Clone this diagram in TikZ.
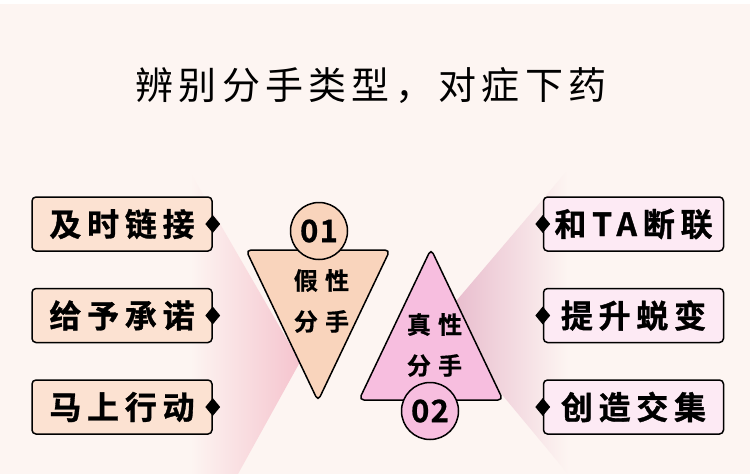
\documentclass[tikz,border=0pt]{standalone}
\usepackage{fontspec}
\usepackage{xcolor}
\setmainfont{Noto Sans CJK SC}[BoldFont={* Bold}]
\newfontfamily\capfam{Noto Sans CJK SC}[LetterSpace=14]
\newfontfamily\tagfam{Noto Sans CJK SC}[UprightFont={* Bold}, LetterSpace=18, FakeBold=1]
\newfontfamily\kindfam{Noto Sans CJK SC}[UprightFont={* Bold}, LetterSpace=30, FakeBold=0.6]
\newfontfamily\digitfam{Noto Sans CJK SC}[UprightFont={* Bold}, LetterSpace=4, FakeBold=0.6]
\newcommand\capfont{\capfam\fontsize{38}{44}\selectfont}
\newcommand\tagfont{\tagfam\fontsize{32}{38}\selectfont}
\newcommand\kindfont{\kindfam\fontsize{24}{41}\selectfont}
\newcommand\digitfont{\digitfam\fontsize{31}{36}\selectfont}
\usetikzlibrary{positioning, shapes}

\definecolor{bgpink}{HTML}{FDF5F2}
\definecolor{peachtri}{HTML}{F9D4BC}
\definecolor{pinktri}{HTML}{F7BEDF}
\definecolor{peachbox}{HTML}{FCE2D2}
\definecolor{pinkbox}{HTML}{FDEAF4}
\definecolor{shadowL}{HTML}{F5C4CE}
\definecolor{shadowR}{HTML}{E6B6C9}

\begin{document}
\begin{tikzpicture}[x=1pt, y=-1pt,
    tag/.style={draw, line width=1.5pt, rounded corners=4pt, minimum width=180pt,
      minimum height=54pt, inner sep=0pt, font=\tagfont},
    tip/.style={diamond, fill=black, minimum width=15pt, minimum height=18pt, inner sep=0pt},
    num/.style={circle, draw, line width=1.5pt, minimum size=57pt, inner sep=0pt, font=\digitfont},
    kind/.style={align=center, inner sep=0pt, font=\kindfont},
    tri/.style={draw, line width=1.5pt, rounded corners=5pt}]
    \fill[bgpink] (0,0) rectangle (750,474);
    \fill[white] (0,0) rectangle (750,4);
    \shade[left color=bgpink, right color=shadowL] (190,172) -- (300,362) -- (238,474) -- (190,474) -- cycle;
    \shade[left color=shadowR, right color=bgpink] (566,172) -- (440,320) -- (568,474) -- cycle;

    \node[font=\capfont] (title) at (371,86) {辨别分手类型，对症下药};

    \node[tag, fill=peachbox] (jishi) at (122,224) {及时链接};
    \node[tag, fill=peachbox, below=36pt of jishi] (geiyu) {给予承诺};
    \node[tag, fill=peachbox, below=36pt of geiyu] (mashang) {马上行动};
    \node[tag, fill=pinkbox, right=330pt of jishi] (duanlian) {和TA断联};
    \node[tag, fill=pinkbox, right=330pt of geiyu] (tisheng) {提升蜕变};
    \node[tag, fill=pinkbox, right=330pt of mashang] (chuangzao) {创造交集};

    \node[tip] (djishi) at (jishi.east) {};
    \node[tip] (dgeiyu) at (geiyu.east) {};
    \node[tip] (dmashang) at (mashang.east) {};
    \node[tip] (dduanlian) at (duanlian.west) {};
    \node[tip] (dtisheng) at (tisheng.west) {};
    \node[tip] (dchuangzao) at (chuangzao.west) {};

    \draw[tri, fill=peachtri] (318,250) -- (390,250) -- (318,401) -- (246,250) -- cycle;
    \draw[tri, fill=pinktri] (431,400) -- (359,400) -- (431,249) -- (503,400) -- cycle;

    \node[num, fill=peachtri] (c01) at (319,231) {01};
    \node[num, fill=pinktri] (c02) at (430,411) {02};

    \node[kind, xshift=3.5pt] (jiaxing) at (318,301) {假性\\分手};
    \node[kind, xshift=3.5pt] (zhenxing) at (431,345) {真性\\分手};
\end{tikzpicture}
\end{document}
